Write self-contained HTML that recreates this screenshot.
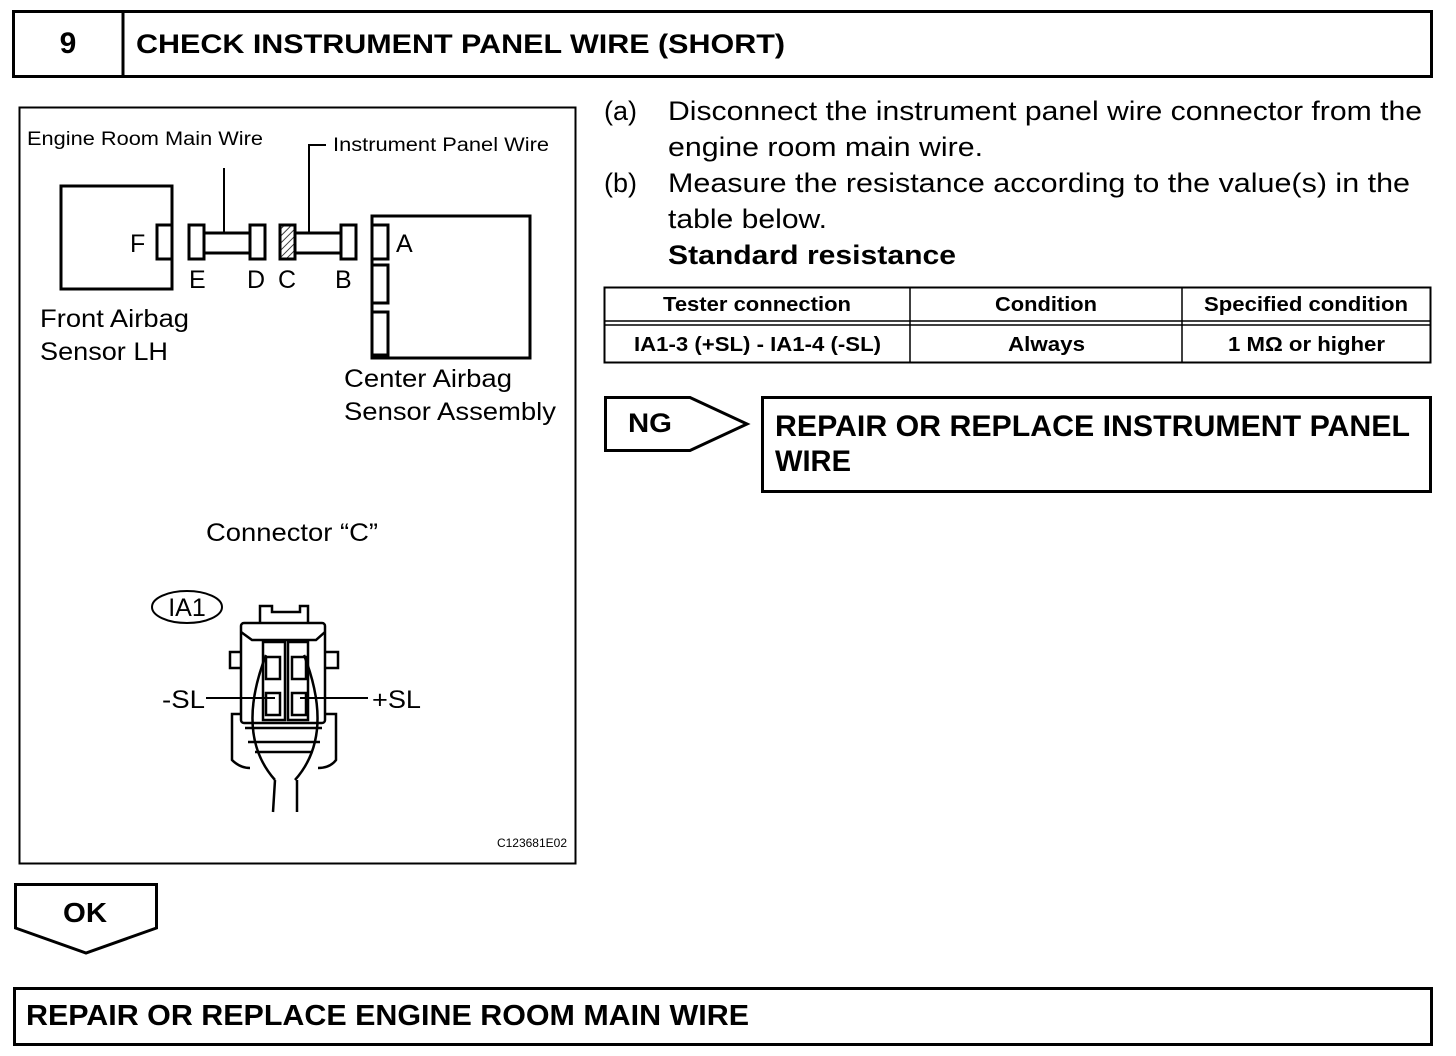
<!DOCTYPE html>
<html><head><meta charset="utf-8"><style>
html,body{margin:0;padding:0;background:#fff;}
svg{display:block;}
text{font-family:"Liberation Sans",Arial,sans-serif;fill:#000;}
</style></head><body>
<svg width="1456" height="1056" viewBox="0 0 1456 1056" xmlns="http://www.w3.org/2000/svg">
<defs>
<pattern id="h" width="5" height="5" patternUnits="userSpaceOnUse" patternTransform="rotate(45)">
<line x1="0" y1="0" x2="0" y2="5" stroke="#000" stroke-width="1.5"/></pattern>
</defs>
<rect x="13.5" y="11.5" width="1418" height="65" fill="none" stroke="#000" stroke-width="3"/>
<line x1="123" y1="11" x2="123" y2="77" stroke="#000" stroke-width="3"/>
<text x="68" y="53" font-size="30" font-weight="bold" text-anchor="middle">9</text>
<text x="136" y="53" font-size="27" font-weight="bold" textLength="649" lengthAdjust="spacingAndGlyphs">CHECK INSTRUMENT PANEL WIRE (SHORT)</text>

<rect x="19.5" y="107.5" width="556" height="756" fill="none" stroke="#000" stroke-width="2"/>
<g fill="none" stroke="#000" stroke-width="3">
<rect x="61" y="186" width="111" height="103"/>
<rect x="372" y="216" width="158" height="142"/>
</g>
<g fill="#fff" stroke="#000" stroke-width="3">
<rect x="157" y="225" width="15" height="34"/>
<rect x="189" y="225" width="15" height="34"/>
<rect x="204" y="233" width="46" height="20"/>
<rect x="250" y="225" width="15" height="34"/>
<rect x="280" y="225" width="15" height="34" fill="url(#h)"/>
<rect x="295" y="233" width="46" height="20"/>
<rect x="341" y="225" width="15" height="34"/>
<rect x="372" y="225" width="16" height="34"/>
<rect x="372" y="265" width="16" height="38"/>
<rect x="372" y="312" width="16" height="43"/>
</g>
<g stroke="#000" stroke-width="2" fill="none">
<line x1="224" y1="168" x2="224" y2="233"/>
<polyline points="326,145 309,145 309,233"/>
</g>
<text x="27" y="145" font-size="19" textLength="236" lengthAdjust="spacingAndGlyphs">Engine Room Main Wire</text>
<text x="333" y="151" font-size="19" textLength="216" lengthAdjust="spacingAndGlyphs">Instrument Panel Wire</text>
<g font-size="25">
<text x="130" y="252">F</text>
<text x="189" y="288">E</text>
<text x="247" y="288">D</text>
<text x="278" y="288">C</text>
<text x="335" y="288">B</text>
<text x="396" y="252">A</text>
<text x="40" y="327" textLength="149" lengthAdjust="spacingAndGlyphs">Front Airbag</text>
<text x="40" y="360" textLength="128" lengthAdjust="spacingAndGlyphs">Sensor LH</text>
<text x="344" y="387" textLength="168" lengthAdjust="spacingAndGlyphs">Center Airbag</text>
<text x="344" y="420" textLength="212" lengthAdjust="spacingAndGlyphs">Sensor Assembly</text>
<text x="206" y="541" textLength="172" lengthAdjust="spacingAndGlyphs">Connector “C”</text>
<text x="162" y="708" textLength="43" lengthAdjust="spacingAndGlyphs">-SL</text>
<text x="372" y="708" textLength="49" lengthAdjust="spacingAndGlyphs">+SL</text>
</g>
<ellipse cx="187" cy="607" rx="35" ry="16" fill="none" stroke="#000" stroke-width="2"/>
<text x="187" y="616" font-size="25" text-anchor="middle">IA1</text>
<g fill="none" stroke="#000" stroke-width="2.5">
<path d="M260,623 V606 H272 V612 H300 V606 H308 V623"/>
<rect x="241" y="623" width="84" height="100" rx="3"/>
<path d="M241,652 H230 V668 H241 M325,652 H338 V668 H325"/>
<path d="M241,632 L252,640 H316 L325,632"/>
<rect x="263" y="642" width="22" height="78"/>
<rect x="288" y="642" width="20" height="78"/>
<rect x="266" y="657" width="14" height="22"/>
<rect x="292" y="657" width="14" height="22"/>
<rect x="266" y="693" width="14" height="22"/>
<rect x="292" y="693" width="14" height="22"/>
<path d="M240,714 H232 V760 Q240,768 250,768 M326,714 H336 V760 Q330,768 318,768"/>
<path d="M245,728 H322 M248,742 H320 M255,752 H312"/>
<path d="M266,655 Q235,735 275,780 M304,655 Q335,735 295,780"/>
<path d="M275,780 L273,812 M297,780 L297,812"/>
</g>
<line x1="206" y1="698" x2="275" y2="698" stroke="#000" stroke-width="2"/>
<line x1="300" y1="698" x2="368" y2="698" stroke="#000" stroke-width="2"/>
<text x="567" y="847" font-size="12" text-anchor="end">C123681E02</text>

<g font-size="27">
<text x="604" y="120">(a)</text>
<text x="668" y="120" textLength="754" lengthAdjust="spacingAndGlyphs">Disconnect the instrument panel wire connector from the</text>
<text x="668" y="156" textLength="315" lengthAdjust="spacingAndGlyphs">engine room main wire.</text>
<text x="604" y="192">(b)</text>
<text x="668" y="192" textLength="742" lengthAdjust="spacingAndGlyphs">Measure the resistance according to the value(s) in the</text>
<text x="668" y="228" textLength="159" lengthAdjust="spacingAndGlyphs">table below.</text>
<text x="668" y="264" font-weight="bold" textLength="288" lengthAdjust="spacingAndGlyphs">Standard resistance</text>
</g>
<g stroke="#000" fill="none">
<rect x="604.5" y="287.5" width="826" height="75" stroke-width="2"/>
<line x1="604" y1="321" x2="1431" y2="321" stroke-width="1.5"/>
<line x1="604" y1="325" x2="1431" y2="325" stroke-width="1.5"/>
<line x1="910" y1="287" x2="910" y2="363" stroke-width="1.5"/>
<line x1="1182" y1="287" x2="1182" y2="363" stroke-width="1.5"/>
</g>
<g font-size="20" font-weight="bold">
<text x="663" y="311" textLength="188" lengthAdjust="spacingAndGlyphs">Tester connection</text>
<text x="995" y="311" textLength="102" lengthAdjust="spacingAndGlyphs">Condition</text>
<text x="1204" y="311" textLength="204" lengthAdjust="spacingAndGlyphs">Specified condition</text>
<text x="634" y="351" textLength="247" lengthAdjust="spacingAndGlyphs">IA1-3 (+SL) - IA1-4 (-SL)</text>
<text x="1008" y="351" textLength="77" lengthAdjust="spacingAndGlyphs">Always</text>
<text x="1228" y="351" textLength="157" lengthAdjust="spacingAndGlyphs">1 MΩ or higher</text>
</g>
<path d="M605.5,397.5 H690 L747,424 L690,450.5 H605.5 Z" fill="none" stroke="#000" stroke-width="3"/>
<text x="628" y="432" font-size="27" font-weight="bold" textLength="44" lengthAdjust="spacingAndGlyphs">NG</text>
<rect x="762.5" y="397.5" width="668" height="94" fill="none" stroke="#000" stroke-width="3"/>
<text x="775" y="436" font-size="30" font-weight="bold" textLength="635" lengthAdjust="spacingAndGlyphs">REPAIR OR REPLACE INSTRUMENT PANEL</text>
<text x="775" y="471" font-size="30" font-weight="bold" textLength="76" lengthAdjust="spacingAndGlyphs">WIRE</text>
<path d="M15.5,884.5 H156.5 V928 L86,953 L15.5,928 Z" fill="none" stroke="#000" stroke-width="3"/>
<text x="63" y="922" font-size="28" font-weight="bold" textLength="44" lengthAdjust="spacingAndGlyphs">OK</text>
<rect x="14.5" y="988.5" width="1417" height="56" fill="none" stroke="#000" stroke-width="3"/>
<text x="26" y="1025" font-size="29" font-weight="bold" textLength="723" lengthAdjust="spacingAndGlyphs">REPAIR OR REPLACE ENGINE ROOM MAIN WIRE</text>
</svg>
</body></html>
